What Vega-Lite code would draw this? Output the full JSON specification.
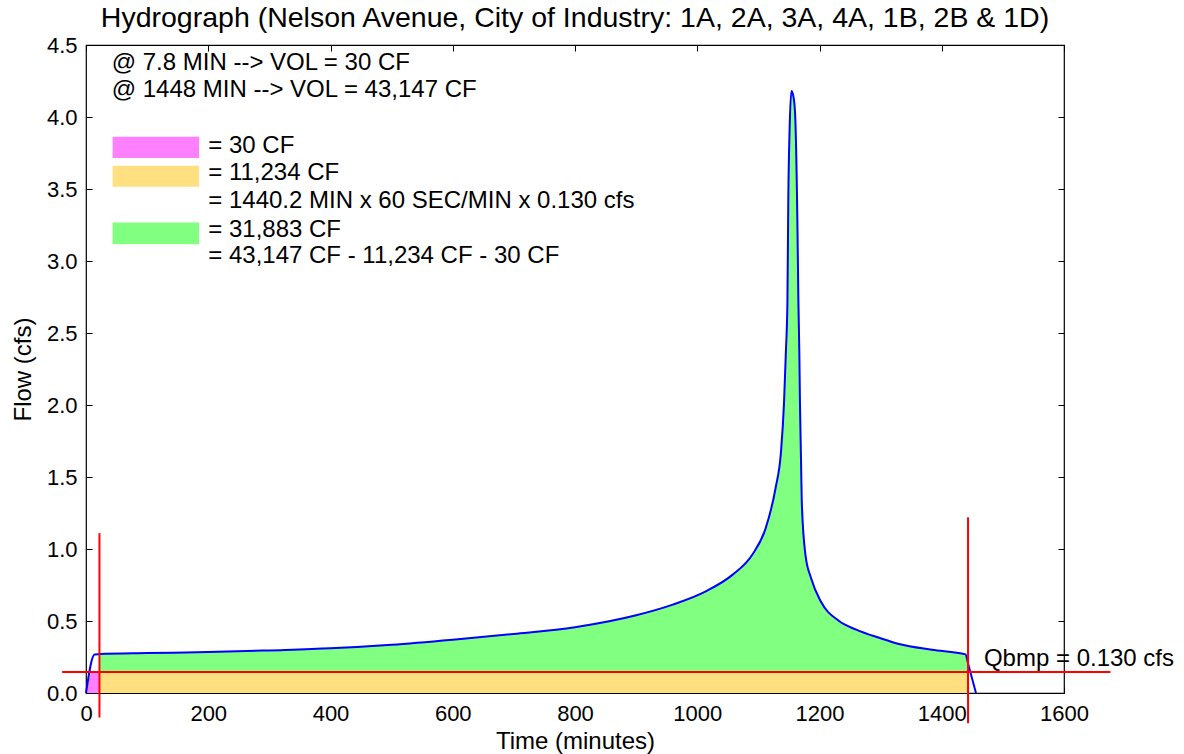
{
  "$schema": "https://vega.github.io/schema/vega-lite/v6.json",
  "width": 978,
  "height": 648,
  "autosize": {"type": "none"},
  "padding": {"left": 86, "top": 45, "right": 120, "bottom": 61},
  "background": "white",
  "title": {"text": "Hydrograph (Nelson Avenue, City of Industry: 1A, 2A, 3A, 4A, 1B, 2B & 1D)", "font": "Liberation Sans", "fontSize": 28.5, "fontWeight": "normal", "color": "black", "baseline": "alphabetic", "offset": -21},
  "data": {"values": [{}]},
  "datasets": {
    "curve": [
      {"t": 0, "q": 0}, {"t": 14, "q": 0.268}, {"t": 22, "q": 0.27}, {"t": 100, "q": 0.277},
      {"t": 200, "q": 0.284}, {"t": 300, "q": 0.296}, {"t": 400, "q": 0.31}, {"t": 500, "q": 0.335},
      {"t": 600, "q": 0.37}, {"t": 700, "q": 0.41}, {"t": 800, "q": 0.457}, {"t": 900, "q": 0.54},
      {"t": 960, "q": 0.614}, {"t": 1014, "q": 0.706}, {"t": 1058, "q": 0.822}, {"t": 1090, "q": 0.96},
      {"t": 1112, "q": 1.145}, {"t": 1128, "q": 1.42}, {"t": 1137, "q": 1.676}, {"t": 1142, "q": 2.02},
      {"t": 1145, "q": 2.37}, {"t": 1147.5, "q": 2.71}, {"t": 1149, "q": 3.45}, {"t": 1151, "q": 3.9},
      {"t": 1154, "q": 4.18}, {"t": 1157, "q": 4.15}, {"t": 1160, "q": 4.03}, {"t": 1164, "q": 3.22},
      {"t": 1165.5, "q": 2.71}, {"t": 1167, "q": 2.37}, {"t": 1168, "q": 2.02}, {"t": 1171, "q": 1.33},
      {"t": 1177, "q": 0.96}, {"t": 1186, "q": 0.8}, {"t": 1202, "q": 0.637}, {"t": 1232, "q": 0.5},
      {"t": 1260, "q": 0.44}, {"t": 1300, "q": 0.38}, {"t": 1330, "q": 0.34}, {"t": 1384, "q": 0.3},
      {"t": 1439, "q": 0.268}, {"t": 1443, "q": 0.205}, {"t": 1456, "q": 0}
    ],
    "pink": [
      {"t": 0, "q": 0}, {"t": 7.6, "q": 0.145}, {"t": 22, "q": 0.145}
    ]
  },
  "resolve": {"axis": {"x": "independent", "y": "independent"}},
  "layer": [
    {
      "data": {"name": "curve"},
      "transform": [{"filter": "datum.t >= 22 && datum.t <= 1443"}],
      "mark": {"type": "area", "color": "#80FF80", "opacity": 1, "interpolate": "monotone"},
      "encoding": {
        "x": {"field": "t", "type": "quantitative", "scale": {"domain": [0, 1600], "nice": false, "zero": false},
              "axis": {"orient": "bottom", "values": [0, 200, 400, 600, 800, 1000, 1200, 1400, 1600], "format": "d", "labelFlush": false, "labelOverlap": false, "title": "Time (minutes)", "domain": false, "tickSize": -6, "tickColor": "black", "labelPadding": 16, "labelFontSize": 22, "titleFontSize": 24, "titlePadding": 5, "grid": false}},
        "y": {"field": "q", "type": "quantitative", "scale": {"domain": [0, 4.5], "nice": false, "zero": false},
              "axis": {"orient": "left", "values": [0, 0.5, 1, 1.5, 2, 2.5, 3, 3.5, 4, 4.5], "format": ".1f", "labelFlush": false, "labelOverlap": false, "title": "Flow (cfs)", "domain": false, "tickSize": -6, "tickColor": "black", "labelPadding": 15, "labelFontSize": 22, "titleFontSize": 24, "titlePadding": 11, "grid": false}},
        "y2": {"datum": 0.145}
      }
    },
    {
      "mark": {"type": "rect", "color": "#FFE080"},
      "encoding": {
        "x": {"datum": 22, "type": "quantitative", "axis": null},
        "x2": {"datum": 1443},
        "y": {"datum": 0, "type": "quantitative", "axis": null},
        "y2": {"datum": 0.145}
      }
    },
    {
      "data": {"name": "pink"},
      "mark": {"type": "area", "color": "#FF80FF"},
      "encoding": {
        "x": {"field": "t", "type": "quantitative", "axis": null},
        "y": {"field": "q", "type": "quantitative", "axis": null}
      }
    },
    {
      "data": {"name": "curve"},
      "mark": {"type": "line", "color": "#0000FF", "strokeWidth": 2, "interpolate": "monotone"},
      "encoding": {
        "x": {"field": "t", "type": "quantitative", "axis": {"orient": "top", "labels": false, "title": null, "domain": false, "tickSize": -6, "tickColor": "black", "values": [0, 200, 400, 600, 800, 1000, 1200, 1400, 1600], "grid": false}},
        "y": {"field": "q", "type": "quantitative", "axis": {"orient": "right", "labels": false, "title": null, "domain": false, "tickSize": -6, "tickColor": "black", "values": [0, 0.5, 1, 1.5, 2, 2.5, 3, 3.5, 4, 4.5], "grid": false}}
      }
    },
    {
      "mark": {"type": "rule", "color": "#FF0000", "strokeWidth": 2},
      "encoding": {
        "x": {"datum": 22, "type": "quantitative", "axis": null},
        "y": {"datum": -0.17, "type": "quantitative", "axis": null},
        "y2": {"datum": 1.11}
      }
    },
    {
      "mark": {"type": "rule", "color": "#FF0000", "strokeWidth": 2},
      "encoding": {
        "x": {"datum": 1443, "type": "quantitative", "axis": null},
        "y": {"datum": -0.21, "type": "quantitative", "axis": null},
        "y2": {"datum": 1.22}
      }
    },
    {
      "mark": {"type": "rule", "color": "#FF0000", "strokeWidth": 2},
      "encoding": {
        "x": {"datum": -39, "type": "quantitative", "axis": null},
        "x2": {"datum": 1676},
        "y": {"datum": 0.145, "type": "quantitative", "axis": null}
      }
    },
    {
      "mark": {"type": "text", "text": "Qbmp = 0.130 cfs", "align": "left", "baseline": "alphabetic", "font": "Liberation Sans", "fontSize": 24, "color": "black"},
      "encoding": {
        "x": {"datum": 1469, "type": "quantitative", "axis": null},
        "y": {"datum": 0.19, "type": "quantitative", "axis": null}
      }
    },
    {
      "mark": {"type": "text", "text": "@ 7.8 MIN --> VOL = 30 CF", "align": "left", "baseline": "alphabetic", "font": "Liberation Sans", "fontSize": 24, "color": "black"},
      "encoding": {
        "x": {"datum": 42, "type": "quantitative", "axis": null},
        "y": {"datum": 4.324, "type": "quantitative", "axis": null}
      }
    },
    {
      "mark": {"type": "text", "text": "@ 1448 MIN --> VOL = 43,147 CF", "align": "left", "baseline": "alphabetic", "font": "Liberation Sans", "fontSize": 24, "color": "black"},
      "encoding": {
        "x": {"datum": 42, "type": "quantitative", "axis": null},
        "y": {"datum": 4.139, "type": "quantitative", "axis": null}
      }
    },
    {
      "mark": {"type": "rect", "color": "#FF80FF"},
      "encoding": {
        "x": {"datum": 43.6, "type": "quantitative", "axis": null},
        "x2": {"datum": 185},
        "y": {"datum": 3.862, "type": "quantitative", "axis": null},
        "y2": {"datum": 3.716}
      }
    },
    {
      "mark": {"type": "rect", "color": "#FFE080"},
      "encoding": {
        "x": {"datum": 43.6, "type": "quantitative", "axis": null},
        "x2": {"datum": 185},
        "y": {"datum": 3.661, "type": "quantitative", "axis": null},
        "y2": {"datum": 3.515}
      }
    },
    {
      "mark": {"type": "rect", "color": "#80FF80"},
      "encoding": {
        "x": {"datum": 43.6, "type": "quantitative", "axis": null},
        "x2": {"datum": 185},
        "y": {"datum": 3.267, "type": "quantitative", "axis": null},
        "y2": {"datum": 3.117}
      }
    },
    {
      "mark": {"type": "text", "text": "= 30 CF", "align": "left", "baseline": "alphabetic", "font": "Liberation Sans", "fontSize": 24, "color": "black"},
      "encoding": {
        "x": {"datum": 200, "type": "quantitative", "axis": null},
        "y": {"datum": 3.75, "type": "quantitative", "axis": null}
      }
    },
    {
      "mark": {"type": "text", "text": "= 11,234 CF", "align": "left", "baseline": "alphabetic", "font": "Liberation Sans", "fontSize": 24, "color": "black"},
      "encoding": {
        "x": {"datum": 200, "type": "quantitative", "axis": null},
        "y": {"datum": 3.564, "type": "quantitative", "axis": null}
      }
    },
    {
      "mark": {"type": "text", "text": "= 1440.2 MIN x 60 SEC/MIN x 0.130 cfs", "align": "left", "baseline": "alphabetic", "font": "Liberation Sans", "fontSize": 24, "color": "black"},
      "encoding": {
        "x": {"datum": 200, "type": "quantitative", "axis": null},
        "y": {"datum": 3.367, "type": "quantitative", "axis": null}
      }
    },
    {
      "mark": {"type": "text", "text": "= 31,883 CF", "align": "left", "baseline": "alphabetic", "font": "Liberation Sans", "fontSize": 24, "color": "black"},
      "encoding": {
        "x": {"datum": 200, "type": "quantitative", "axis": null},
        "y": {"datum": 3.17, "type": "quantitative", "axis": null}
      }
    },
    {
      "mark": {"type": "text", "text": "= 43,147 CF - 11,234 CF - 30 CF", "align": "left", "baseline": "alphabetic", "font": "Liberation Sans", "fontSize": 24, "color": "black"},
      "encoding": {
        "x": {"datum": 200, "type": "quantitative", "axis": null},
        "y": {"datum": 2.985, "type": "quantitative", "axis": null}
      }
    }
  ],
  "config": {
    "view": {"stroke": "black", "strokeWidth": 1.2},
    "font": "Liberation Sans",
    "axis": {"labelFont": "Liberation Sans", "titleFont": "Liberation Sans", "labelColor": "black", "titleColor": "black", "titleFontWeight": "normal"}
  }
}
